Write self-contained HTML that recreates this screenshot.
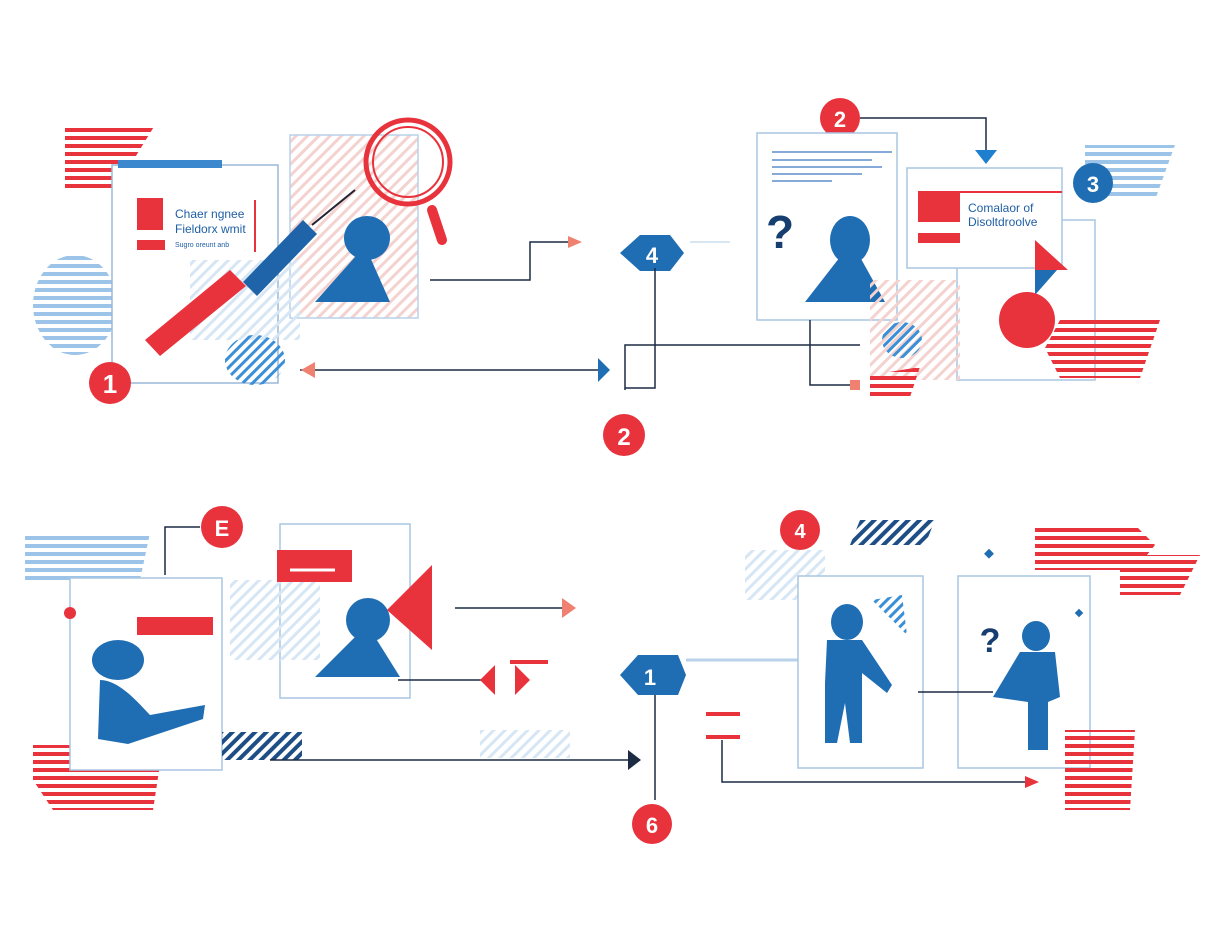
<!DOCTYPE html>
<html><head><meta charset="utf-8"><style>
html,body{margin:0;padding:0;background:#fff;width:1232px;height:928px;overflow:hidden}
svg{display:block}
text{font-family:"Liberation Sans",sans-serif}
</style></head><body>
<svg width="1232" height="928" viewBox="0 0 1232 928" xmlns="http://www.w3.org/2000/svg">
<defs>
<pattern id="rs" width="8" height="8" patternUnits="userSpaceOnUse"><rect width="8" height="4" fill="#e8323c"/></pattern>
<pattern id="bs" width="8" height="8" patternUnits="userSpaceOnUse"><rect width="8" height="4" fill="#9cc3e8"/></pattern>
<pattern id="ns" width="8" height="8" patternUnits="userSpaceOnUse" patternTransform="rotate(45)"><rect width="4" height="8" fill="#1d4e85"/></pattern>
<pattern id="ds" width="8" height="8" patternUnits="userSpaceOnUse" patternTransform="rotate(45)"><rect width="3" height="8" fill="#d7e6f4"/></pattern>
<pattern id="db" width="7" height="7" patternUnits="userSpaceOnUse" patternTransform="rotate(45)"><rect width="3" height="7" fill="#3b8fd6"/></pattern>
<pattern id="dr" width="8" height="8" patternUnits="userSpaceOnUse" patternTransform="rotate(45)"><rect width="3" height="8" fill="#f3d2cf"/></pattern>
</defs>
<g fill="none" stroke-width="1.5">
<!-- TOP LEFT -->
<path d="M65 125h90l-40 65h-50z" fill="url(#rs)"/>
<ellipse cx="75" cy="305" rx="42" ry="50" fill="url(#bs)"/>
<rect x="290" y="135" width="128" height="183" fill="url(#dr)" stroke="#b9d2ea"/>
<rect x="112" y="165" width="166" height="218" fill="#fff" stroke="#9ab8d8"/>
<rect x="118" y="160" width="104" height="8" fill="#3c88cf"/>
<rect x="137" y="198" width="26" height="32" fill="#e8323c"/>
<rect x="137" y="240" width="28" height="10" fill="#e8323c"/>
<line x1="255" y1="200" x2="255" y2="252" stroke="#e8323c" stroke-width="2"/>
<text x="175" y="218" font-size="12" fill="#1f5fa5">Chaer ngnee</text>
<text x="175" y="233" font-size="12" fill="#1f5fa5">Fieldorx wmit</text>
<text x="175" y="247" font-size="7" fill="#1f5fa5">Sugro oreunt anb</text>
<ellipse cx="255" cy="360" rx="30" ry="25" fill="url(#db)"/>
<rect x="190" y="260" width="110" height="80" fill="url(#ds)"/>
<path d="M145 340l85-70 16 16-86 70z" fill="#e8323c"/>
<path d="M243 282l60-62 14 14-60 62z" fill="#1f64a8"/>
<line x1="312" y1="225" x2="355" y2="190" stroke="#223" stroke-width="2"/>
<ellipse cx="367" cy="238" rx="23" ry="22" fill="#1f6db3"/>
<path d="M315 302l40-45h15l20 45z" fill="#1f6db3"/>
<circle cx="408" cy="162" r="42" stroke="#e8323c" stroke-width="5"/>
<circle cx="408" cy="162" r="35" stroke="#e8323c" stroke-width="2"/>
<line x1="432" y1="210" x2="442" y2="240" stroke="#e8323c" stroke-width="10" stroke-linecap="round"/>
<circle cx="110" cy="383" r="21" fill="#e8323c"/>
<text x="110" y="393" font-size="26" font-weight="bold" fill="#fff" text-anchor="middle">1</text>
<!-- connectors top -->
<path d="M430 280h100v-38h45" stroke="#1c2a44"/>
<path d="M568 236l14 6-14 6z" fill="#f08070"/>
<path d="M690 242h40" stroke="#cde"/>
<path d="M620 253l20-18h30l14 18-14 18h-30z" fill="#1f6db3"/>
<text x="652" y="263" font-size="22" font-weight="bold" fill="#fff" text-anchor="middle">4</text>
<path d="M300 370h298" stroke="#1c2a44"/>
<path d="M598 358l12 12-12 12z" fill="#1f6db3"/>
<path d="M315 362l-14 8 14 8z" fill="#f08070"/>
<path d="M655 268v120h-30M625 390v-45h235" stroke="#1c2a44"/>
<circle cx="624" cy="435" r="21" fill="#e8323c"/>
<text x="624" y="445" font-size="24" font-weight="bold" fill="#fff" text-anchor="middle">2</text>
<!-- TOP RIGHT -->
<path d="M1085 145h90l-20 55h-70z" fill="url(#bs)"/>
<circle cx="840" cy="118" r="20" fill="#e8323c"/>
<text x="840" y="127" font-size="22" font-weight="bold" fill="#fff" text-anchor="middle">2</text>
<path d="M860 118h126v34" stroke="#1c2a44"/>
<path d="M975 150h22l-11 14z" fill="#1f7fcf"/>
<rect x="757" y="133" width="140" height="187" fill="#fff" stroke="#a9c6e2"/>
<g stroke="#3c78c0" stroke-width="1.2"><path d="M772 152h120M772 160h100M772 167h110M772 174h90M772 181h60"/></g>
<text x="780" y="248" font-size="46" font-weight="bold" fill="#163e6e" text-anchor="middle">?</text>
<ellipse cx="850" cy="240" rx="20" ry="24" fill="#1f6db3"/>
<path d="M805 302l35-45h20l25 45z" fill="#1f6db3"/>
<rect x="957" y="220" width="138" height="160" fill="#fff" stroke="#a9c6e2"/>
<rect x="870" y="280" width="90" height="100" fill="url(#dr)"/>
<rect x="907" y="168" width="155" height="100" fill="#fff" stroke="#a9c6e2"/>
<line x1="918" y1="192" x2="1062" y2="192" stroke="#e8323c" stroke-width="2"/>
<rect x="918" y="193" width="42" height="29" fill="#e8323c"/>
<rect x="918" y="233" width="42" height="10" fill="#e8323c"/>
<text x="968" y="212" font-size="12" fill="#1f5fa5">Comalaor of</text>
<text x="968" y="226" font-size="12" fill="#1f5fa5">Disoltdroolve</text>
<circle cx="1093" cy="183" r="20" fill="#1f6db3"/>
<text x="1093" y="192" font-size="22" font-weight="bold" fill="#fff" text-anchor="middle">3</text>
<path d="M1035 240l33 30h-33z" fill="#e8323c"/>
<path d="M1035 270h22l-22 25z" fill="#1f6db3"/>
<circle cx="1027" cy="320" r="28" fill="#e8323c"/>
<path d="M1060 320h100l-20 58h-80l-15-30z" fill="url(#rs)"/>
<ellipse cx="902" cy="340" rx="20" ry="18" fill="url(#db)"/>
<path d="M870 375l50-8-10 30h-40z" fill="url(#rs)"/>
<path d="M810 320v65h45" stroke="#1c2a44"/>
<rect x="850" y="380" width="10" height="10" fill="#f08070"/>
<!-- BOTTOM LEFT -->
<path d="M25 533h125l-10 47h-115z" fill="url(#bs)"/>
<circle cx="222" cy="527" r="21" fill="#e8323c"/>
<text x="222" y="536" font-size="22" font-weight="bold" fill="#fff" text-anchor="middle">E</text>
<path d="M200 527h-35v48" stroke="#1c2a44"/>
<path d="M33 745h130l-10 65h-100l-20-30z" fill="url(#rs)"/>
<rect x="70" y="578" width="152" height="192" fill="#fff" stroke="#a9c6e2"/>
<circle cx="70" cy="613" r="6" fill="#e8323c"/>
<rect x="137" y="617" width="76" height="18" fill="#e8323c"/>
<ellipse cx="118" cy="660" rx="26" ry="20" fill="#1f6db3"/>
<path d="M100 680c20 0 40 25 50 35l55-10-2 14-75 25-30-5z" fill="#1f6db3"/>
<rect x="280" y="524" width="130" height="174" fill="#fff" stroke="#a9c6e2"/>
<rect x="230" y="580" width="90" height="80" fill="url(#ds)"/>
<rect x="277" y="550" width="75" height="32" fill="#e8323c"/>
<path d="M290 570h45" stroke="#fff" stroke-width="3"/>
<ellipse cx="368" cy="620" rx="22" ry="22" fill="#1f6db3"/>
<path d="M315 677l40-40h20l25 40z" fill="#1f6db3"/>
<path d="M432 565v85l-45-40z" fill="#e8323c"/>
<path d="M455 608h110" stroke="#1c2a44"/>
<path d="M562 598l14 10-14 10z" fill="#f08070"/>
<path d="M398 680h85" stroke="#1c2a44"/>
<path d="M480 680l15-15v30zM515 665l15 15-15 15z" fill="#e8323c"/>
<rect x="510" y="660" width="38" height="4" fill="#e8323c"/>
<rect x="222" y="732" width="80" height="28" fill="url(#ns)"/>
<rect x="480" y="730" width="90" height="28" fill="url(#ds)"/>
<path d="M270 760h358" stroke="#1c2a44"/>
<path d="M628 750l13 10-13 10z" fill="#1c2a44"/>
<!-- BOTTOM MIDDLE/RIGHT -->
<path d="M620 675l18-20h40l8 20-8 20h-40z" fill="#1f6db3"/>
<text x="650" y="685" font-size="22" font-weight="bold" fill="#fff" text-anchor="middle">1</text>
<path d="M655 695v105" stroke="#1c2a44"/>
<circle cx="652" cy="824" r="20" fill="#e8323c"/>
<text x="652" y="833" font-size="22" font-weight="bold" fill="#fff" text-anchor="middle">6</text>
<path d="M686 660h115" stroke="#b9d2ea" stroke-width="3"/>
<rect x="706" y="712" width="34" height="4" fill="#e8323c"/>
<rect x="706" y="735" width="34" height="4" fill="#e8323c"/>
<path d="M722 740v42h305" stroke="#1c2a44"/>
<path d="M1025 776l14 6-14 6z" fill="#e8323c"/>
<circle cx="800" cy="530" r="20" fill="#e8323c"/>
<text x="800" y="538" font-size="20" font-weight="bold" fill="#fff" text-anchor="middle">4</text>
<path d="M860 520h75l-10 25h-75z" fill="url(#ns)"/>
<rect x="745" y="550" width="80" height="50" fill="url(#ds)"/>
<rect x="798" y="576" width="125" height="192" fill="#fff" stroke="#a9c6e2"/>
<rect x="958" y="576" width="132" height="192" fill="#fff" stroke="#a9c6e2"/>
<path d="M1035 525h100l20 20-20 25h-100z" fill="url(#rs)"/>
<path d="M1120 555h80l-20 40h-60z" fill="url(#rs)"/>
<path d="M1065 730h70l-5 80h-65z" fill="url(#rs)"/>
<ellipse cx="847" cy="622" rx="16" ry="18" fill="#1f6db3"/>
<path d="M827 640h35l30 45 -5 8-25-20v70h-12l-5-40-8 40h-12v-60z" fill="#1f6db3"/>
<path d="M872 600l30-5 5 40z" fill="url(#db)"/>
<path d="M918 692h75" stroke="#1c2a44"/>
<text x="990" y="652" font-size="34" font-weight="bold" fill="#163e6e" text-anchor="middle">?</text>
<ellipse cx="1036" cy="636" rx="14" ry="15" fill="#1f6db3"/>
<path d="M1020 652h35l5 45-12 5v48h-20v-48l-35-5z" fill="#1f6db3"/>
<rect x="1076" y="610" width="6" height="6" fill="#1f6db3" transform="rotate(45 1079 613)"/>
<rect x="986" y="550" width="7" height="7" fill="#1f6db3" transform="rotate(45 989 553)"/>
</g>
</svg>
</body></html>
